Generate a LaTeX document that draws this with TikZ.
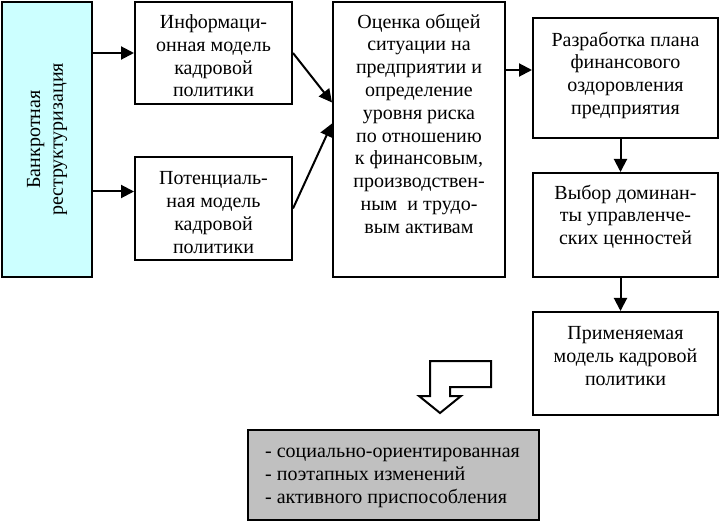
\documentclass[tikz,border=0pt]{standalone}
\usepackage{fontspec}
\setmainfont{Liberation Serif}
\usetikzlibrary{arrows.meta,positioning}
\definecolor{lightcyan}{HTML}{CCFFFF}
\definecolor{boxgray}{HTML}{C0C0C0}
\tikzset{
  box/.style={draw, line width=2pt, align=center, inner sep=2pt,
    font=\fontsize{20}{22.8}\selectfont},
  txt/.style={align=center, inner sep=2pt, font=\fontsize{20}{22.8}\selectfont},
  arr/.style={line width=2pt, -{Triangle[length=13pt,width=13pt]}}
}
\begin{document}
\begin{tikzpicture}[x=1pt,y=-1pt]
   \useasboundingbox (0,0) rectangle (720,521);
   \node[box, fill=lightcyan, minimum width=90, minimum height=275] (bank) at (47,139.5)
     {\rotatebox{90}{\begin{tabular}{c}Банкротная\\реструктуризация\end{tabular}}};
   \node[box, minimum width=157, minimum height=102] (info) at (213.5,53) {};
   \node[txt, below=11.5pt of info.north] (infotxt)
     {Информаци-\\онная модель\\кадровой\\политики};
   \node[box, minimum width=157, minimum height=103] (potent) at (213.5,208.5) {};
   \node[txt, below=13.5pt of potent.north] (potenttxt)
     {Потенциаль-\\ная модель\\кадровой\\политики};
   \node[box, minimum width=172, minimum height=275] (otsenka) at (419,139.5) {};
   \node[txt, below=10.5pt of otsenka.north] (otsenkatxt)
     {Оценка общей\\ситуации на\\предприятии и\\определение\\уровня риска\\по отношению\\к финансовым,\\производствен-\\ным \ и трудо-\\вым активам};
   \node[box, minimum width=185, minimum height=120] (razr) at (625.5,78) {};
   \node[txt, below=12.5pt of razr.north] (razrtxt)
     {Разработка плана\\финансового\\оздоровления\\предприятия};
   \node[box, minimum width=185, minimum height=104] (vybor) at (625.5,225) {};
   \node[txt, below=10.5pt of vybor.north] (vybortxt)
     {Выбор доминан-\\ты управленче-\\ских ценностей};
   \node[box, minimum width=185, minimum height=103] (prim) at (625.5,363.5) {};
   \node[txt, below=13.5pt of prim.north] (primtxt)
     {Применяемая\\модель кадровой\\политики};
   \node[box, fill=boxgray, minimum width=291, minimum height=90] (forms) at (393.5,475) {};
   \node[txt, align=left, anchor=west] (formstxt) at (263,478)
     {- социально-ориентированная\\- поэтапных изменений\\- активного приспособления};

   \coordinate (p_in) at ([yshift=17pt]potent.west);
   \coordinate (o_top) at ([yshift=37pt]otsenka.west);
   \coordinate (o_bot) at ([yshift=16pt]otsenka.west);
   \coordinate (r_in) at ([yshift=8pt]razr.west);
   \draw[arr] (bank.east |- info.west) -- (info.west);
   \draw[arr] (bank.east |- p_in) -- (p_in);
   \draw[arr] (info.east) -- (o_top);
   \draw[arr] (potent.east) -- (o_bot);
   \draw[arr] (otsenka.east |- r_in) -- (r_in);
   \draw[arr] ([xshift=-5pt]razr.south) -- ([xshift=-5pt]vybor.north);
   \draw[arr] ([xshift=-5pt]vybor.south) -- ([xshift=-5pt]prim.north);

   \draw[line width=2pt, fill=white] (430,361) -- (491,361) -- (491,387) -- (450,387)
     -- (450,396) -- (461,396) -- (440,413) -- (419,396) -- (430,396) -- cycle;
\end{tikzpicture}
\end{document}
